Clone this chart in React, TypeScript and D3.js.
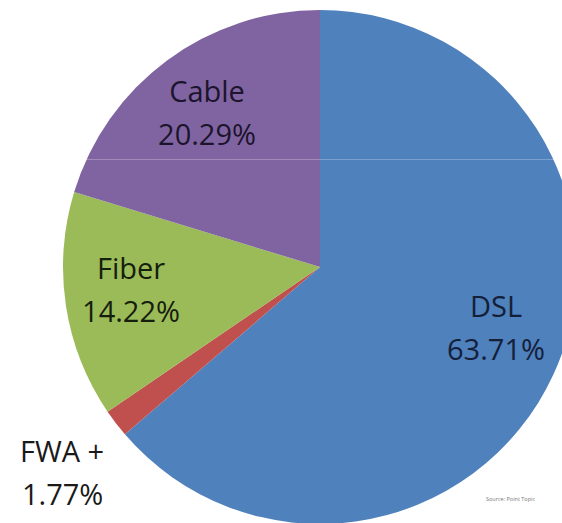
import { useEffect, useRef } from 'react';
import * as d3 from 'd3';

// Broadband share by technology
const categories = ['DSL', 'FWA +', 'Fiber', 'Cable'];
const shares = [63.71, 1.77, 14.22, 20.29];
const colors = ['#4f81bd', '#c0504d', '#9bbb59', '#8064a2'];
const source = 'Source: Point Topic';

const W = 562;
const H = 523;

const App = () => {
  const svgRef = useRef<SVGSVGElement>(null);

  useEffect(() => {
    const svg = d3.select(svgRef.current);
    svg.selectAll('*').remove();

    const cx = 320;
    const cy = 267;
    const radius = 257;

    const data = categories.map((c, i) => ({ name: c, value: shares[i], color: colors[i] }));

    const pie = d3.pie<any>()
      .sort(null)
      .value(d => d.value);

    const arc = d3.arc<any>()
      .innerRadius(0)
      .outerRadius(radius);

    const g = svg.append('g')
      .attr('transform', `translate(${cx},${cy})`);

    g.selectAll('path')
      .data(pie(data))
      .join('path')
      .attr('d', arc)
      .attr('fill', d => d.data.color);

    // faint scan line seen across the picture
    svg.append('clipPath')
      .attr('id', 'pieClip')
      .append('circle')
      .attr('cx', cx)
      .attr('cy', cy)
      .attr('r', radius);
    svg.append('line')
      .attr('x1', 0)
      .attr('x2', W)
      .attr('y1', 159.5)
      .attr('y2', 159.5)
      .attr('stroke', 'rgba(255,255,255,0.25)')
      .attr('stroke-width', 1)
      .attr('clip-path', 'url(#pieClip)');

    // label positions (relative to centre) and alignment per slice
    const labelPos: Record<string, { x: number; y: number; anchor: string; fill: string }> = {
      'DSL': { x: 176, y: 50, anchor: 'middle', fill: '#14203a' },
      'FWA +': { x: -300, y: 195, anchor: 'start', fill: '#1a1a1a' },
      'Fiber': { x: -189, y: 12, anchor: 'middle', fill: '#161e0e' },
      'Cable': { x: -113, y: -165, anchor: 'middle', fill: '#1c142c' },
    };

    data.forEach(d => {
      const p = labelPos[d.name];
      const t = g.append('text')
        .attr('x', p.x)
        .attr('y', p.y)
        .attr('text-anchor', p.anchor)
        .attr('fill', p.fill)
        .attr('font-family', 'Open Sans, sans-serif')
        .attr('font-size', 29);
      t.append('tspan')
        .attr('x', p.x)
        .text(d.name);
      t.append('tspan')
        .attr('x', p.anchor === 'start' ? p.x + 2 : p.x)
        .attr('dy', 43)
        .text(d3.format('.2f')(d.value) + '%');
    });

    svg.append('text')
      .attr('x', 486)
      .attr('y', 501)
      .attr('fill', '#777')
      .attr('font-family', 'Open Sans, sans-serif')
      .attr('font-size', 5.5)
      .text(source);
  }, []);

  return (
    <div style={{ position: 'fixed', left: 0, top: 0 }}>
      <svg ref={svgRef} width={W} height={H} style={{ display: 'block', background: '#fff' }} />
    </div>
  );
};

export default App;
